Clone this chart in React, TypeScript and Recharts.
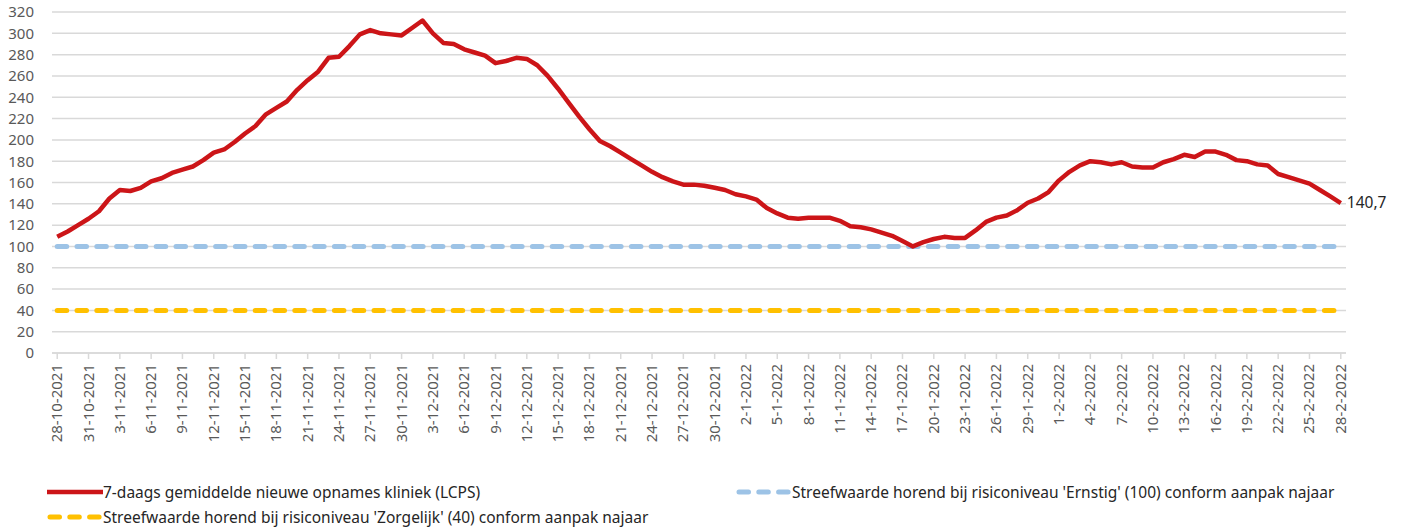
import React from "react";
import { LineChart, Line, XAxis, YAxis, CartesianGrid, Legend } from "recharts";

// 7-daags gemiddelde, 28-10-2021 t/m 28-2-2022
const opnames = [
  109, 114, 120, 126, 133, 145, 153, 152, 155, 161,
  164, 169, 172, 175, 181, 188, 191, 198, 206, 213,
  224, 230, 236, 247, 256, 264, 277, 278, 288, 299,
  303, 300, 299, 298, 305, 312, 300, 291, 290, 285,
  282, 279, 272, 274, 277, 276, 270, 260, 248, 235,
  222, 210, 199, 194, 188, 182, 176, 170, 165, 161,
  158, 158, 157, 155, 153, 149, 147, 144, 136, 131,
  127, 126, 127, 127, 127, 124, 119, 118, 116, 113,
  110, 105, 100, 104, 107, 109, 108, 108, 115, 123,
  127, 129, 134, 141, 145, 151, 162, 170, 176, 180,
  179, 177, 179, 175, 174, 174, 179, 182, 186, 184,
  189, 189, 186, 181, 180, 177, 176, 168, 165, 162,
  159, 153, 147, 140.7,
];

const dates = opnames.map((_v, i) => {
  const d = new Date(2021, 9, 28 + i);
  return `${d.getDate()}-${d.getMonth() + 1}-${d.getFullYear()}`;
});

const ERNSTIG = 100;
const ZORGELIJK = 40;
const yTicks = [0, 20, 40, 60, 80, 100, 120, 140, 160, 180, 200, 220, 240, 260, 280, 300, 320];

const labels = {
  opnames: "7-daags gemiddelde nieuwe opnames kliniek (LCPS)",
  ernstig: "Streefwaarde horend bij risiconiveau 'Ernstig' (100) conform aanpak najaar",
  zorgelijk: "Streefwaarde horend bij risiconiveau 'Zorgelijk' (40) conform aanpak najaar",
};

const RED = "#CC1518";
const BLUE = "#9DC3E6";
const YELLOW = "#FFC000";
const FONT = "'Noto Sans', sans-serif";

const data = dates.map((date, i) => ({ date, opnames: opnames[i] }));

const DateTick = (props: any) => {
  const { x, y, payload } = props;
  return (
    <g transform={`translate(${x},${y + 3})`}>
      <text
        transform="rotate(-90)"
        textAnchor="end"
        dy={5}
        fontSize={15}
        fontFamily={FONT}
        fill="#595959"
      >
        {payload.value}
      </text>
    </g>
  );
};

const EndLabel = (props: any) => {
  const { x, y, index, value } = props;
  if (index !== opnames.length - 1) return null;
  return (
    <text x={x + 6} y={y} dy={5} fontSize={15.5} fontFamily={FONT} fill="#262626">
      {String(value).replace(".", ",")}
    </text>
  );
};

const LegendItem = ({ left, top, color, dashed, text }: any) => (
  <div
    style={{
      position: "absolute",
      left,
      top,
      height: 24,
      display: "flex",
      alignItems: "center",
      whiteSpace: "nowrap",
    }}
  >
    <svg width={56} height={10}>
      <line
        x1={dashed ? 3 : 0}
        y1={5}
        x2={dashed ? 53 : 56}
        y2={5}
        stroke={color}
        strokeWidth={dashed ? 5 : 4.5}
        strokeDasharray={dashed ? "9.5 10.3" : undefined}
        strokeLinecap={dashed ? "round" : "butt"}
      />
    </svg>
    <span>{text}</span>
  </div>
);

const LegendBox = () => (
  <div
    style={{
      position: "relative",
      width: 1408,
      height: 50,
      fontFamily: FONT,
      fontSize: 15.5,
      color: "#262626",
    }}
  >
    <LegendItem left={47} top={1} color={RED} text={labels.opnames} />
    <LegendItem left={736} top={1} color={BLUE} dashed text={labels.ernstig} />
    <LegendItem left={47} top={26} color={YELLOW} dashed text={labels.zorgelijk} />
  </div>
);

export default function App() {
  return (
    <div style={{ position: "absolute", left: 0, top: 0, background: "#fff" }}>
      <LineChart
        width={1408}
        height={528}
        data={data}
        margin={{ top: 12, right: 62, bottom: 95, left: 0 }}
      >
        <CartesianGrid vertical={false} stroke="#D9D9D9" strokeWidth={1.5} />
        <XAxis
          dataKey="date"
          scale="band"
          interval={2}
          height={80}
          tick={<DateTick />}
          tickSize={6}
          axisLine={{ stroke: "#D9D9D9", strokeWidth: 1.5 }}
          tickLine={{ stroke: "#D9D9D9", strokeWidth: 1.5 }}
        />
        <YAxis
          width={52}
          domain={[0, 320]}
          ticks={yTicks}
          interval={0}
          axisLine={false}
          tickLine={false}
          tickSize={6}
          tickMargin={12}
          tick={{ fontSize: 15, fontFamily: FONT, fill: "#595959" }}
        />
        <Legend
          layout="vertical"
          verticalAlign="middle"
          align="center"
          content={<LegendBox />}
          wrapperStyle={{ top: 479, left: 0, width: 1408, height: 50 }}
        />
        <Line
          dataKey={() => ZORGELIJK}
          name={labels.zorgelijk}
          stroke={YELLOW}
          strokeWidth={5}
          strokeDasharray="9.5 10.3"
          strokeLinecap="round"
          dot={false}
          activeDot={false}
          isAnimationActive={false}
        />
        <Line
          dataKey={() => ERNSTIG}
          name={labels.ernstig}
          stroke={BLUE}
          strokeWidth={5}
          strokeDasharray="9.5 10.3"
          strokeLinecap="round"
          dot={false}
          activeDot={false}
          isAnimationActive={false}
        />
        <Line
          dataKey="opnames"
          name={labels.opnames}
          stroke={RED}
          strokeWidth={4.5}
          strokeLinejoin="round"
          dot={false}
          activeDot={false}
          label={<EndLabel />}
          isAnimationActive={false}
        />
      </LineChart>
    </div>
  );
}
